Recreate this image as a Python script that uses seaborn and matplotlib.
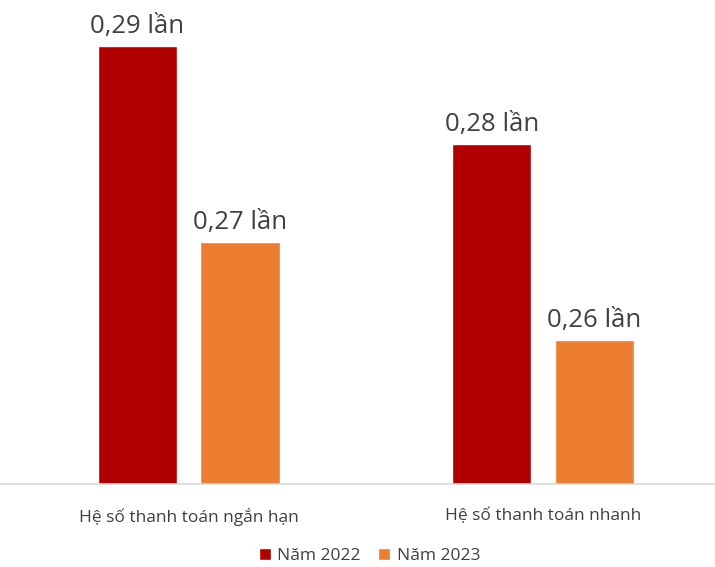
import matplotlib
matplotlib.use("Agg")
import matplotlib.pyplot as plt
import seaborn as sns
import pandas as pd

categories = ["Hệ số thanh toán ngắn hạn", "Hệ số thanh toán nhanh"]
years = ["Năm 2022", "Năm 2023"]
values_2022 = [0.29, 0.28]
values_2023 = [0.27, 0.26]

df = pd.DataFrame({
    "category": categories * 2,
    "year": [years[0]] * 2 + [years[1]] * 2,
    "value": values_2022 + values_2023,
})

sns.set_theme(style="white")
plt.rcParams["font.family"] = ["Open Sans", "DejaVu Sans"]

fig = plt.figure(figsize=(7.15, 5.67), dpi=100)
ax = fig.add_axes([0.0, 0.1464, 1.0, 0.8536])

palette = {"Năm 2022": "#B00000", "Năm 2023": "#ED7D31"}
sns.barplot(data=df, x="category", y="value", hue="year", palette=palette,
            width=0.58, gap=0.23, ax=ax, legend=True, saturation=1)

ax.set_ylim(0.2453, 0.2947)
ax.set_xlim(-0.532, 1.485)

for cont in ax.containers:
    labels = [f"{v:.2f}".replace(".", ",") + " lần" for v in cont.datavalues]
    ax.bar_label(cont, labels=labels, padding=5, fontsize=18.5, color="#404040")

for s in ["top", "right", "left"]:
    ax.spines[s].set_visible(False)
ax.spines["bottom"].set_color("#D9D9D9")
ax.spines["bottom"].set_linewidth(1.2)
ax.set_yticks([])
ax.set_xlabel("")
ax.set_ylabel("")
ax.tick_params(axis="x", length=0, pad=17, labelsize=12.5, labelcolor="#404040")

handles, labs = ax.get_legend_handles_labels()
ax.legend_.remove()
fig.legend(handles, labs, loc="lower center", bbox_to_anchor=(0.517, -0.022), ncol=2,
           frameon=False, fontsize=12.5, handlelength=0.7, handleheight=0.7,
           handletextpad=0.35, columnspacing=1.0, labelcolor="#404040")

fig.savefig("out.png", dpi=100)
